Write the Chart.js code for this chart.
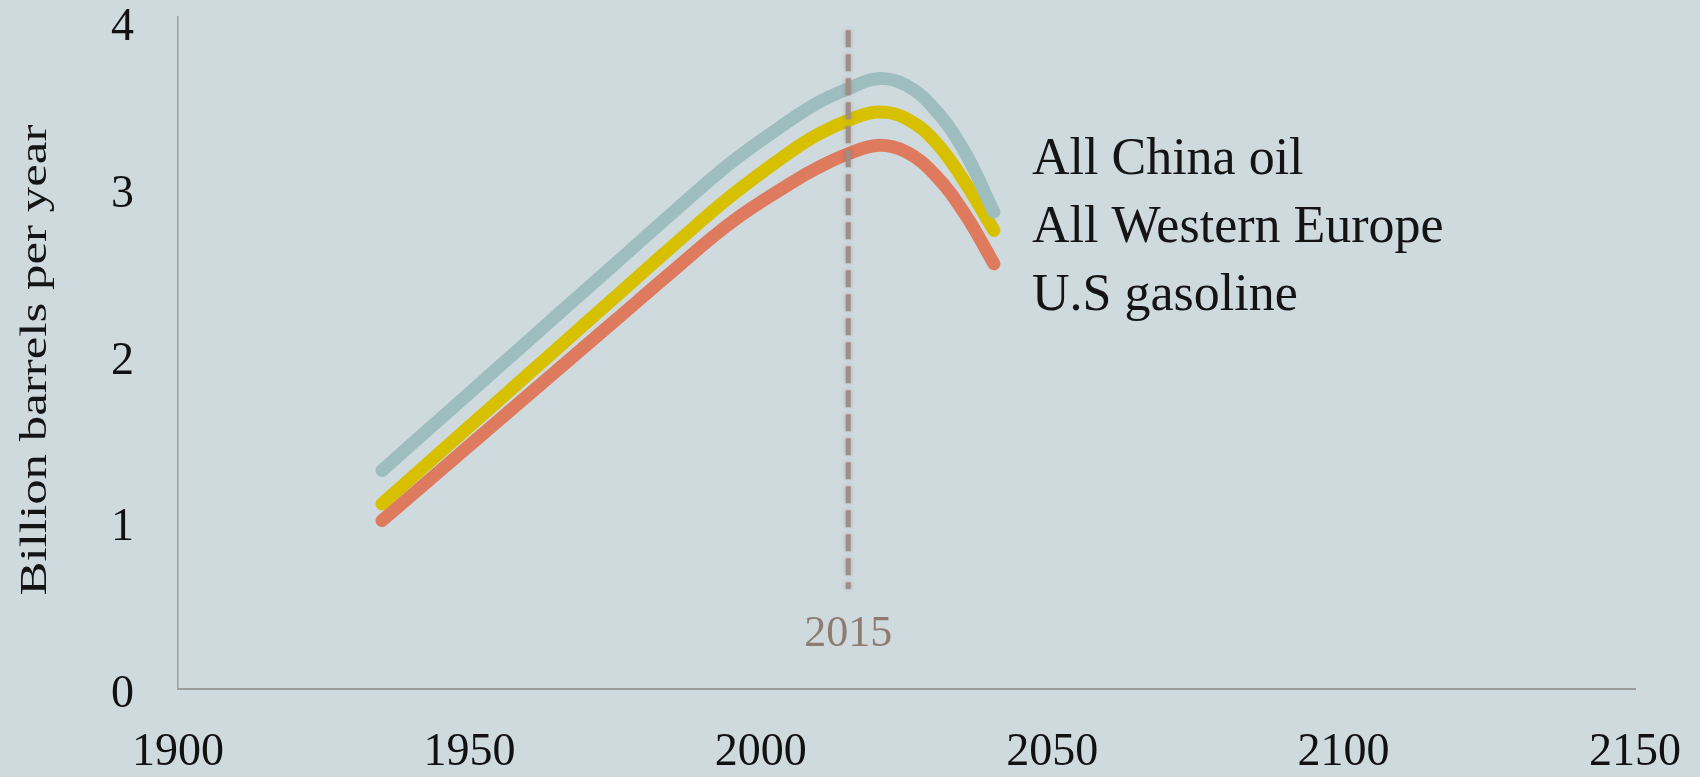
<!DOCTYPE html>
<html>
<head>
<meta charset="utf-8">
<script src="https://cdn.jsdelivr.net/npm/chart.js@4.4.1/dist/chart.umd.min.js"></script>
<style>
  html, body { margin: 0; padding: 0; background: #cfdadf; }
  #wrap { width: 1700px; height: 777px; position: relative; }
</style>
</head>
<body>
<div id="wrap"><canvas id="chart"></canvas></div>
<script>
const years = [1935, 1945, 1955, 1965, 1975, 1985, 1995, 2005, 2010, 2015, 2020, 2025, 2030, 2035, 2040];
const chinaOil = [1.31, 1.62, 1.93, 2.24, 2.55, 2.86, 3.16, 3.41, 3.52, 3.60, 3.66, 3.62, 3.47, 3.22, 2.86];
const westernEurope = [1.11, 1.42, 1.73, 2.04, 2.35, 2.66, 2.96, 3.22, 3.33, 3.41, 3.46, 3.42, 3.28, 3.04, 2.75];
const usGasoline = [1.01, 1.31, 1.61, 1.91, 2.21, 2.51, 2.80, 3.03, 3.13, 3.21, 3.26, 3.22, 3.08, 2.85, 2.55];
const seriesNames = ["All China oil", "All Western Europe", "U.S gasoline"];
const xTicks = [1900, 1950, 2000, 2050, 2100, 2150];
const yTicks = [0, 1, 2, 3, 4];
const markerYear = 2015;
const markerSpan = [0.6, 3.95];
const yTitle = "Billion barrels per year";

const FONT = "'Liberation Serif', 'Times New Roman', serif";
const colors = ["#9dbdbf", "#d6c000", "#de7a5e"];

function points(values) {
  return values.map((v, i) => ({ x: years[i], y: v }));
}

function dataset(label, values, color) {
  return {
    label,
    data: points(values),
    borderColor: color,
    borderWidth: 13,
    borderCapStyle: "round",
    borderJoinStyle: "round",
    pointRadius: 0,
    tension: 0.4,
    fill: false,
  };
}

// dashed year marker, its label, the series names and the rotated axis title
const annotations = {
  id: "annotations",
  afterDatasetsDraw(chart) {
    const { ctx, scales } = chart;
    const x = scales.x.getPixelForValue(markerYear);
    ctx.save();
    ctx.strokeStyle = "#a08d83";
    ctx.lineWidth = 5;
    ctx.setLineDash([17, 7]);
    ctx.shadowColor = "rgba(70, 70, 70, 0.3)";
    ctx.shadowBlur = 4;
    ctx.beginPath();
    ctx.moveTo(x, scales.y.getPixelForValue(markerSpan[1]));
    ctx.lineTo(x, scales.y.getPixelForValue(markerSpan[0]));
    ctx.stroke();
    ctx.restore();

    ctx.save();
    ctx.fillStyle = "#8f7b70";
    ctx.font = "44px " + FONT;
    ctx.textAlign = "center";
    ctx.textBaseline = "middle";
    ctx.fillText(String(markerYear), x, 634);

    ctx.fillStyle = "#141414";
    ctx.font = "52px " + FONT;
    ctx.textAlign = "left";
    ctx.textBaseline = "alphabetic";
    seriesNames.forEach((name, i) => {
      ctx.fillText(name, 1032, 174 + i * 68);
    });

    ctx.translate(36, 360);
    ctx.rotate(-Math.PI / 2);
    ctx.scale(1.34, 1);
    ctx.font = "38px " + FONT;
    ctx.textAlign = "center";
    ctx.textBaseline = "middle";
    ctx.fillText(yTitle, 0, 0);
    ctx.restore();
  },
};

new Chart(document.getElementById("chart").getContext("2d"), {
  type: "line",
  data: {
    datasets: [
      dataset(seriesNames[0], chinaOil, colors[0]),
      dataset(seriesNames[1], westernEurope, colors[1]),
      dataset(seriesNames[2], usGasoline, colors[2]),
    ],
  },
  options: {
    responsive: true,
    maintainAspectRatio: false,
    animation: false,
    layout: { padding: { top: 17, right: 65, left: 0, bottom: 0 } },
    plugins: {
      legend: { display: false },
      tooltip: { enabled: false },
    },
    scales: {
      x: {
        type: "linear",
        min: 1900,
        max: 2150,
        grid: { display: false, drawTicks: false },
        border: { display: true, color: "#9c9c9c", width: 2 },
        afterBuildTicks: (s) => { s.ticks = xTicks.map((v) => ({ value: v })); },
        afterFit: (s) => {
          s.height = 88;
          s.paddingLeft = 0;
          s.paddingRight = 0;
        },
        ticks: {
          color: "#111",
          font: { family: FONT, size: 46 },
          padding: 36,
          maxRotation: 0,
          callback: (v) => String(v),
        },
      },
      y: {
        min: 0,
        max: 4.03,
        grid: { display: false, drawTicks: false },
        border: { display: true, color: "#a0a0a0", width: 1.5 },
        afterBuildTicks: (s) => { s.ticks = yTicks.map((v) => ({ value: v })); },
        afterFit: (s) => {
          s.width = 178;
          s.paddingTop = 0;
          s.paddingBottom = 0;
        },
        ticks: {
          color: "#111",
          font: { family: FONT, size: 46 },
          padding: 44,
          labelOffset: 6,
          callback: (v) => String(v),
        },
      },
    },
  },
  plugins: [annotations],
});
</script>
</body>
</html>
